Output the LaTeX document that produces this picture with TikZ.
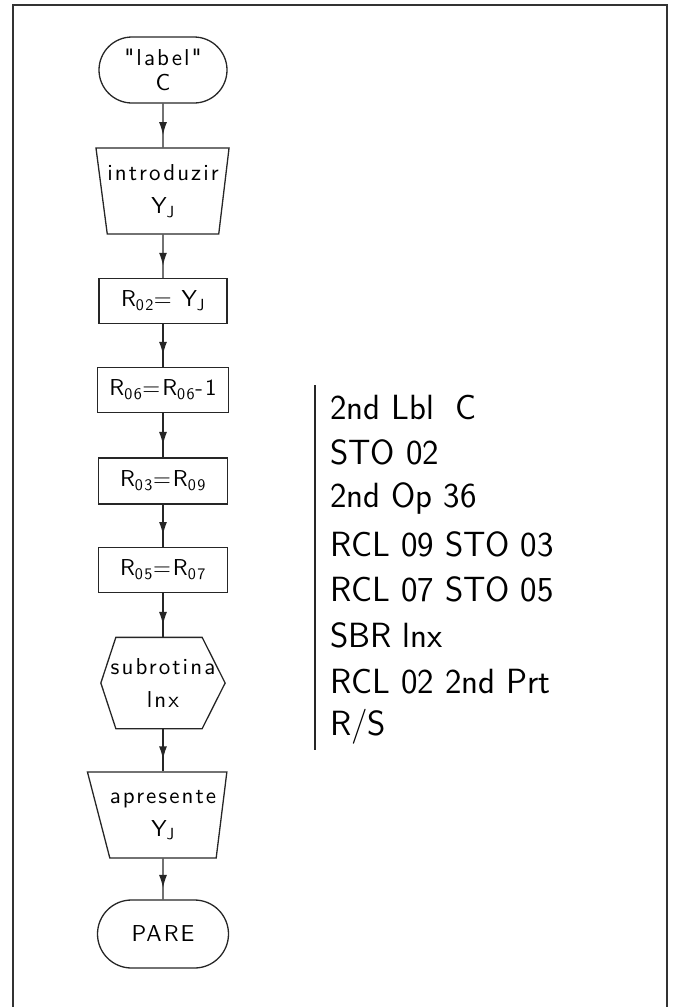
\documentclass[tikz,border=0pt]{standalone}
\usepackage{fontspec}
\usepackage{tikz}
\usetikzlibrary{calc, arrows.meta, shapes.geometric, shapes.misc, decorations.markings}

\newfontfamily\flowfont{lmsans10-regular.otf}[LetterSpace=9]

\tikzset{
  flow/.style={draw=black!85, line width=1.3pt, align=center, inner sep=0pt,
    font=\flowfont\fontsize{23}{33}\selectfont},
  termbox/.style={flow, rounded rectangle, minimum width=128pt, minimum height=66pt},
  iobox/.style={flow, trapezium, shape border rotate=180, trapezium stretches=true,
    minimum width=126pt, minimum height=86pt},
  procbox/.style={flow, rectangle, minimum height=45pt},
  flowline/.style={draw=black!85, line width=1.3pt, postaction={decorate},
    decoration={markings, mark=at position 0.72 with {\arrow{Latex[length=13pt, width=8pt]}}}},
  listing/.style={anchor=west, inner sep=0pt, font=\sffamily\fontsize{35}{40}\selectfont}
}

\begin{document}
\begin{tikzpicture}[x=1pt, y=-1pt]
  \useasboundingbox (0,0) rectangle (674,1007);

  % sheet frame, open at the bottom
  \draw[line width=2.2pt, black!80] (13,1007) -- (13,5) -- (667,5) -- (667,1007);

  % flowchart column
  \node[termbox] (nLbl) at (163,70) {"label"\\[-8pt]C};
  \node[iobox, trapezium left angle=79, trapezium right angle=78] (nIn) at (163,191)
    {introduzir\\Y\textsubscript{J}};
  \node[procbox, minimum width=128pt] (nR02) at (163,301)
    {R\textsubscript{02}= Y\textsubscript{J}};
  \node[procbox, minimum width=131pt] (nR06) at (163,390)
    {R\textsubscript{06}=R\textsubscript{06}-1};
  \node[procbox, minimum width=129pt, minimum height=46pt] (nR03) at (163,481)
    {R\textsubscript{03}=R\textsubscript{09}};
  \node[procbox, minimum width=129pt] (nR05) at (163,570)
    {R\textsubscript{05}=R\textsubscript{07}};

  % hexagon for the subroutine call
  \node[flow, draw=none, minimum width=123pt, minimum height=90pt] (nSub) at (163,683)
    {subrotina\\lnx};
  \draw[line width=1.3pt, black!85] (nSub.west) -- ($(nSub.north west)+(15,0)$)
    -- ($(nSub.north east)+(-23,0)$) -- (nSub.east) -- ($(nSub.south east)+(-23,0)$)
    -- ($(nSub.south west)+(15,0)$) -- cycle;

  \node[iobox, trapezium left angle=78, trapezium right angle=66] (nOut) at (163,815)
    {apresente\\Y\textsubscript{J}};
  \node[termbox, minimum width=131pt, minimum height=68pt] (nPare) at (163,934) {PARE};

  \draw[flowline] (nLbl) -- (nIn);
  \draw[flowline] (nIn) -- (nR02);
  \draw[flowline] (nR02) -- (nR06);
  \draw[flowline] (nR06) -- (nR03);
  \draw[flowline] (nR03) -- (nR05);
  \draw[flowline] (nR05) -- (nSub);
  \draw[flowline] (nSub) -- (nOut);
  \draw[flowline] (nOut) -- (nPare);

  % program listing
  \coordinate (barTop) at (315,385);
  \coordinate (barBot) at (315,750);
  \draw[line width=1.6pt, black!85] (barTop) -- (barBot);
  \foreach \txt [count=\i] in {2nd Lbl~~C, STO 02, 2nd Op 36, RCL 09 STO 03,
      RCL 07 STO 05, SBR lnx, RCL 02 2nd Prt, R/S}
    \node[listing] (lst\i) at (330, {407+45.7*(\i-1)}) {\txt};
\end{tikzpicture}
\end{document}
